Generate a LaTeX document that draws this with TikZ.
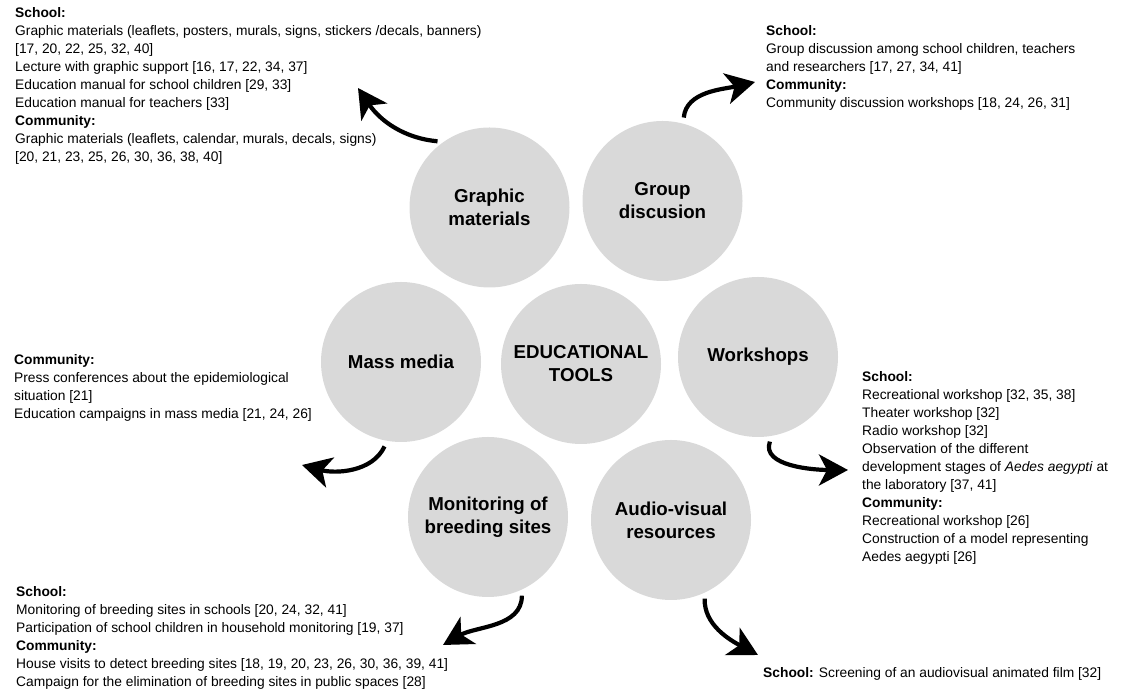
\documentclass[tikz,border=0pt]{standalone}
\usepackage{fontspec}
\setmainfont{Liberation Sans}
\usepackage{tikz}
\usetikzlibrary{arrows.meta}

\begin{document}
\begin{tikzpicture}[
    x=1pt, y=1pt,
    tool/.style={circle, fill=black!15, minimum size=160pt, inner sep=0pt, align=center, font=\fontsize{18.7}{23}\selectfont\bfseries},
    desc/.style={anchor=west, align=left, inner sep=0pt, font=\fontsize{13.8}{18}\selectfont},
    swoosh/.style={line width=4.2pt, shorten <=6pt, -{Stealth[length=29pt, width=31pt, inset=8pt]}}
]
\useasboundingbox (0,0) rectangle (1133,695);

% Tools around the centre
\node[tool] (tools) at (581,331) {EDUCATIONAL\\TOOLS};
\node[tool] (graphic) at (489.5,487.5) {Graphic\\materials};
\node[tool] (group) at (662.5,494) {Group\\discusion};
\node[tool] (massMedia) at (401,333) {Mass media};
\node[tool] (workshops) at (758,338) {Workshops};
\node[tool] (monitoring) at (488,178) {Monitoring of\\breeding sites};
\node[tool] (audioVisual) at (671,175) {Audio-visual\\resources};

% Descriptions
\node[desc] (graphicTxt) at (15,609) {\textbf{School:}\\
    Graphic materials (leaflets, posters, murals, signs, stickers /decals, banners)\\
    {[17, 20, 22, 25, 32, 40]}\\
    Lecture with graphic support [16, 17, 22, 34, 37]\\
    Education manual for school children [29, 33]\\
    Education manual for teachers [33]\\
    \textbf{Community:}\\
    Graphic materials (leaflets, calendar, murals, decals, signs)\\
    {[20, 21, 23, 25, 26, 30, 36, 38, 40]}};
\node[desc] (groupTxt) at (766,627) {\textbf{School:}\\
    Group discussion among school children, teachers\\
    and researchers [17, 27, 34, 41]\\
    \textbf{Community:}\\
    Community discussion workshops [18, 24, 26, 31]};
\node[desc] (massMediaTxt) at (14,307) {\textbf{Community:}\\
    Press conferences about the epidemiological\\
    situation [21]\\
    Education campaigns in mass media [21, 24, 26]};
\node[desc] (workshopsTxt) at (862,227.5) {\textbf{School:}\\
    Recreational workshop [32, 35, 38]\\
    Theater workshop [32]\\
    Radio workshop [32]\\
    Observation of the different\\
    development stages of \textit{Aedes aegypti} at\\
    the laboratory [37, 41]\\
    \textbf{Community:}\\
    Recreational workshop [26]\\
    Construction of a model representing\\
    Aedes aegypti [26]};
\node[desc] (monitoringTxt) at (16,57) {\textbf{School:}\\
    Monitoring of breeding sites in schools [20, 24, 32, 41]\\
    Participation of school children in household monitoring [19, 37]\\
    \textbf{Community:}\\
    House visits to detect breeding sites [18, 19, 20, 23, 26, 30, 36, 39, 41]\\
    Campaign for the elimination of breeding sites in public spaces [28]};
\node[desc] (audioVisualTxt) at (763,21.5) {\textbf{School:} Screening of an audiovisual animated film [32]};

% Arrows out to the descriptions
\coordinate (graphicEnd) at (358,607);
\coordinate (groupEnd) at (755,613);
\coordinate (massMediaEnd) at (302,230);
\coordinate (workshopsEnd) at (848,225);
\coordinate (monitoringEnd) at (443,50);
\coordinate (audioVisualEnd) at (758,40);

\draw[swoosh] (graphic.125) to[out=175, in=-56] (graphicEnd);
\draw[swoosh] (group.75) to[out=85, in=193] (groupEnd);
\draw[swoosh] (massMedia.-100) to[out=-115, in=-15] (massMediaEnd);
\draw[swoosh] (workshops.-80) to[out=-110, in=180] (workshopsEnd);
\draw[swoosh] (monitoring.-65) to[out=-90, in=30] (monitoringEnd);
\draw[swoosh] (audioVisual.-65) to[out=-92, in=152] (audioVisualEnd);

\end{tikzpicture}
\end{document}
